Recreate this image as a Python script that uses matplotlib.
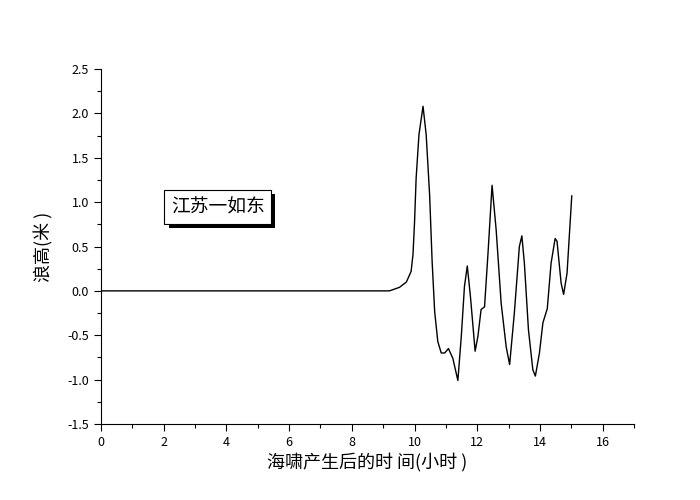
import matplotlib
matplotlib.use("Agg")
import matplotlib.pyplot as plt
import matplotlib.patheffects as pe
from matplotlib.ticker import MultipleLocator

plt.rcParams['font.family'] = ['Noto Sans CJK SC', 'DejaVu Sans']
plt.rcParams['axes.unicode_minus'] = False

# 时间 (小时) 和 浪高 (米)
t = [0.0, 9.2, 9.52, 9.74, 9.89, 9.95, 10.0, 10.05, 10.14, 10.27, 10.37, 10.48,
     10.56, 10.64, 10.74, 10.85, 10.96, 11.08, 11.22, 11.38, 11.49, 11.59, 11.68,
     11.78, 11.93, 12.02, 12.12, 12.23, 12.34, 12.47, 12.60, 12.76, 12.92, 13.03,
     13.18, 13.34, 13.42, 13.50, 13.63, 13.77, 13.85, 13.98, 14.09, 14.23, 14.35,
     14.48, 14.54, 14.67, 14.75, 14.86, 15.01]
h = [0.0, 0.0, 0.04, 0.10, 0.22, 0.41, 0.78, 1.27, 1.76, 2.08, 1.76, 1.08,
     0.33, -0.23, -0.57, -0.70, -0.70, -0.65, -0.76, -1.01, -0.51, 0.05, 0.28,
     -0.06, -0.68, -0.51, -0.21, -0.18, 0.42, 1.19, 0.69, -0.14, -0.63, -0.83,
     -0.25, 0.50, 0.62, 0.31, -0.44, -0.89, -0.96, -0.70, -0.36, -0.20, 0.31,
     0.59, 0.56, 0.09, -0.04, 0.20, 1.07]

site = "江苏一如东"
xlabel = "海啸产生后的时 间(小时 )"
ylabel = "浪高(米 )"

fig = plt.figure(figsize=(7, 5), dpi=100)
ax = fig.add_axes([0.144, 0.152, 0.762, 0.71])
ax.plot(t, h, color='black', lw=1.0)

ax.set_xlim(0, 17)
ax.set_ylim(-1.5, 2.5)
ax.xaxis.set_major_locator(MultipleLocator(2))
ax.xaxis.set_minor_locator(MultipleLocator(1))
ax.yaxis.set_major_locator(MultipleLocator(0.5))
ax.yaxis.set_minor_locator(MultipleLocator(0.25))
ax.yaxis.set_major_formatter(plt.FormatStrFormatter('%.1f'))
ax.tick_params(which='major', direction='out', length=5, width=0.8, labelsize=9)
ax.tick_params(which='minor', direction='out', length=3, width=0.8)
for s in ['top', 'right']:
    ax.spines[s].set_visible(False)

ax.set_xlabel(xlabel, fontsize=13, labelpad=3)
ax.set_ylabel(ylabel, fontsize=13, labelpad=10)

# 标注框及阴影
txt = ax.text(3.73, 0.95, site, ha='center', va='center', fontsize=13.5,
              bbox=dict(boxstyle='square,pad=0.35', fc='white', ec='black', lw=0.8))
txt.get_bbox_patch().set_path_effects([
    pe.SimplePatchShadow(offset=(3, -3), shadow_rgbFace='black', alpha=1.0),
    pe.Normal()])

fig.savefig('out.png', dpi=100)
